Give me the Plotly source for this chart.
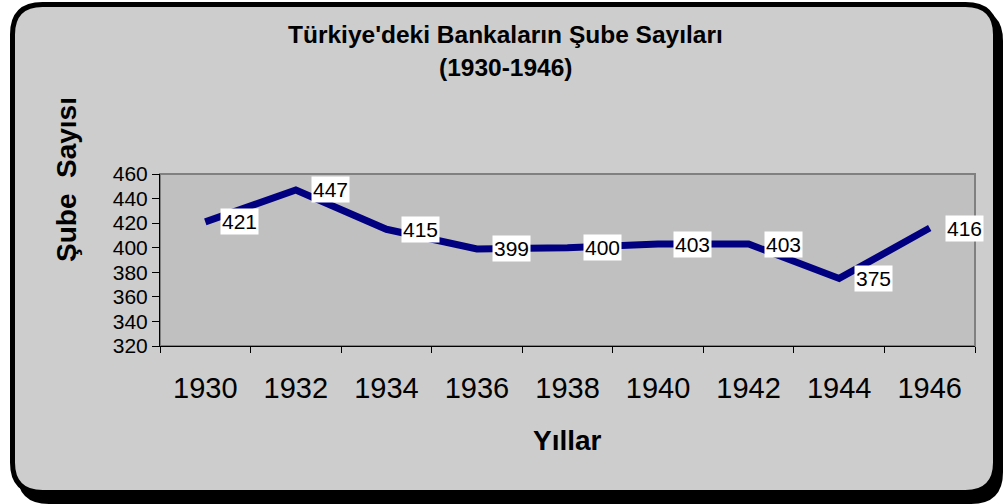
import plotly.graph_objects as go

years = ["1930", "1932", "1934", "1936", "1938", "1940", "1942", "1944", "1946"]
branches = [421, 447, 415, 399, 400, 403, 403, 375, 416]
y_ticks = [320, 340, 360, 380, 400, 420, 440, 460]

W, H = 1003, 504
FONT = "Arial, 'Liberation Sans', sans-serif"


def px(x):
    return x / W


def py(y):
    return 1 - y / H


def rounded(x0, y0, x1, y1, r):
    pts = [
        f"M {px(x0 + r)},{py(y0)}",
        f"L {px(x1 - r)},{py(y0)}",
        f"Q {px(x1)},{py(y0)} {px(x1)},{py(y0 + r)}",
        f"L {px(x1)},{py(y1 - r)}",
        f"Q {px(x1)},{py(y1)} {px(x1 - r)},{py(y1)}",
        f"L {px(x0 + r)},{py(y1)}",
        f"Q {px(x0)},{py(y1)} {px(x0)},{py(y1 - r)}",
        f"L {px(x0)},{py(y0 + r)}",
        f"Q {px(x0)},{py(y0)} {px(x0 + r)},{py(y0)}",
        "Z",
    ]
    return " ".join(pts)


fig = go.Figure()
fig.add_trace(go.Scatter(
    x=years, y=branches, mode="lines",
    line=dict(color="#000080", width=7),
    hoverinfo="skip", showlegend=False,
))

shapes = [
    dict(type="path", xref="paper", yref="paper", layer="below",
         path=rounded(17, 9, 1003, 504, 32), fillcolor="black", line=dict(width=0)),
    dict(type="path", xref="paper", yref="paper", layer="below",
         path=rounded(12.5, 4.5, 995.5, 492.5, 30), fillcolor="#cdcdcd",
         line=dict(color="black", width=5)),
    dict(type="rect", xref="x domain", yref="y domain", layer="below",
         x0=0, x1=1, y0=0, y1=1, fillcolor="#c0c0c0",
         line=dict(color="#808080", width=2)),
]

annotations = []
for i, v in enumerate(branches):
    annotations.append(dict(
        x=i, y=v, xref="x", yref="y", text=str(v), showarrow=False,
        xanchor="left", yanchor="middle", xshift=15,
        bgcolor="white", borderpad=1,
        font=dict(family=FONT, size=21, color="black"),
    ))

annotations += [
    dict(x=px(505), y=py(35), xref="paper", yref="paper",
         text="<b>Türkiye'deki Bankaların Şube Sayıları</b>", showarrow=False,
         xanchor="center", yanchor="middle",
         font=dict(family=FONT, size=24.5, color="black")),
    dict(x=px(505), y=py(68), xref="paper", yref="paper",
         text="<b>(1930-1946)</b>", showarrow=False,
         xanchor="center", yanchor="middle",
         font=dict(family=FONT, size=24.5, color="black")),
    dict(x=px(66), y=py(180), xref="paper", yref="paper",
         text="<b>Şube  Sayısı</b>", showarrow=False, textangle=-90,
         xanchor="center", yanchor="middle",
         font=dict(family=FONT, size=28, color="black")),
    dict(x=px(567), y=py(440), xref="paper", yref="paper",
         text="<b>Yıllar</b>", showarrow=False,
         xanchor="center", yanchor="middle",
         font=dict(family=FONT, size=28, color="black")),
]

fig.update_layout(
    width=W, height=H, autosize=False,
    margin=dict(l=0, r=0, t=0, b=0),
    paper_bgcolor="white", plot_bgcolor="rgba(0,0,0,0)",
    shapes=shapes, annotations=annotations, showlegend=False,
    xaxis=dict(
        type="category", domain=[px(160), px(975)], range=[-0.5, 8.5],
        tickson="boundaries", ticks="outside", ticklen=6, tickcolor="black",
        showline=True, linecolor="black", linewidth=1, showgrid=False,
        zeroline=False, tickfont=dict(family=FONT, size=29, color="black"),
        ticklabelstandoff=16, automargin=False,
    ),
    yaxis=dict(
        domain=[py(346), py(174)], range=[320, 460],
        tickvals=y_ticks, ticks="outside", ticklen=7, tickcolor="black",
        showline=True, linecolor="black", linewidth=1, showgrid=False,
        zeroline=False, tickfont=dict(family=FONT, size=21, color="black"),
        automargin=False,
    ),
)

fig.write_html(
    "out.html",
    config={"displayModeBar": False},
    post_script="document.body.style.margin='0';document.body.style.overflow='hidden';",
)
